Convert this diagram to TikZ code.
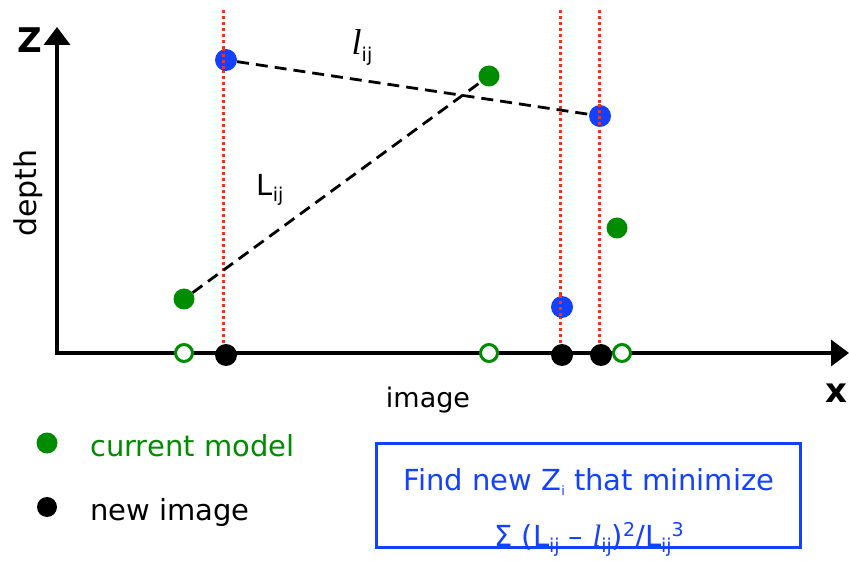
\documentclass[tikz,border=0pt]{standalone}
\usepackage{fontspec}
\setmainfont{DejaVu Sans}
\newfontfamily\ellfont{Liberation Serif}
\usetikzlibrary{arrows.meta}
\definecolor{mgreen}{RGB}{0,140,0}
\definecolor{mblue}{RGB}{20,64,255}
\definecolor{mred}{RGB}{255,48,16}
\newcommand{\sbx}[2][-6pt]{\raisebox{#1}{\fontsize{19}{19}\selectfont #2}}
\newcommand{\myell}[1][34]{{\ellfont\itshape\fontsize{#1}{#1}\selectfont l}}
\tikzset{
  axis/.style={line width=3.5pt,-{Triangle[length=18pt,width=26pt]}},
  guide/.style={mred,line width=3pt,dash pattern=on 3pt off 3pt},
  link/.style={black,line width=2.8pt,dash pattern=on 12pt off 7pt},
  bluedot/.style={circle,fill=mblue,minimum size=22pt,inner sep=0pt},
  greendot/.style={circle,fill=mgreen,minimum size=21pt,inner sep=0pt},
  opendot/.style={circle,draw=mgreen,line width=3pt,fill=white,minimum size=17pt,inner sep=0pt},
  blackdot/.style={circle,fill=black,minimum size=22pt,inner sep=0pt},
  lbl/.style={font=\fontsize{29}{34}\selectfont,inner sep=0pt},
}
\begin{document}
\begin{tikzpicture}[x=1pt,y=-1pt]
\useasboundingbox (0,0) rectangle (849,561);
% axes
\coordinate (ztip) at (57,27);
\coordinate (zbase) at (57,355);
\coordinate (xtip) at (849,353);
\coordinate (xbase) at (55,353);
\draw[axis] (zbase) -- (ztip);
\draw[axis] (xbase) -- (xtip);
\node[lbl,font=\fontsize{34}{34}\selectfont\bfseries] (zl) at (30,40) {Z};
\node[lbl,font=\fontsize{34}{34}\selectfont\bfseries] (xl) at (836,393) {x};
\node[lbl,rotate=90,font=\fontsize{30}{34}\selectfont] (depth) at (28,193) {depth};
\node[lbl,font=\fontsize{27}{34}\selectfont] (image) at (428,400) {image};
% guides
\coordinate (g1t) at (223,10); \coordinate (g1b) at (223,346);
\coordinate (g2t) at (560,10); \coordinate (g2b) at (560,346);
\coordinate (g3t) at (599,10); \coordinate (g3b) at (599,346);
\draw[guide] (g1t) -- (g1b);
\draw[guide] (g2t) -- (g2b);
\draw[guide] (g3t) -- (g3b);
% points
\node[greendot] (ga) at (184,299) {};
\node[greendot] (gb) at (489,76) {};
\node[greendot] (gc) at (617,228) {};
\node[bluedot] (ba) at (226,60) {};
\node[bluedot] (bb) at (600,116) {};
\node[bluedot] (bc) at (562,307) {};
\draw[guide] (223,48) -- (223,72);
\draw[guide] (599,104) -- (599,128);
\draw[guide] (560,295) -- (560,319);
\draw[link] (ba) -- (bb);
\draw[link] (ga) -- (gb);
\node[opendot] (oa) at (184,353) {};
\node[opendot] (ob) at (489,353) {};
\node[opendot] (oc) at (622,353) {};
\node[blackdot] (ka) at (226,355) {};
\node[blackdot] (kb) at (562,355) {};
\node[blackdot] (kc) at (601,355) {};
\node[lbl] (lij) at (362,47) {\myell[36]\sbx[-7pt]{ij}};
\node[lbl] (Lij) at (270,190) {L\sbx{ij}};
% legend
\node[greendot] (lg) at (47,443) {};
\node[lbl,anchor=west,text=mgreen] (lgt) at (90,446) {current model};
\node[blackdot,minimum size=20pt] (lk) at (47,507) {};
\node[lbl,anchor=west] (lkt) at (90,512) {new image};
% box
\draw[mblue,line width=3pt] (376,443) rectangle (800,547);
\node[lbl,text=mblue] (t1) at (589,482) {Find new Z\raisebox{-5pt}{\fontsize{13}{13}\selectfont i} that minimize};
\node[lbl,text=mblue] (t2) at (589,539) {Σ (L\sbx{ij} – \myell[31]\sbx{ij})\sbx[10pt]{2}/L\sbx{ij}\sbx[10pt]{3}};
\end{tikzpicture}
\end{document}
